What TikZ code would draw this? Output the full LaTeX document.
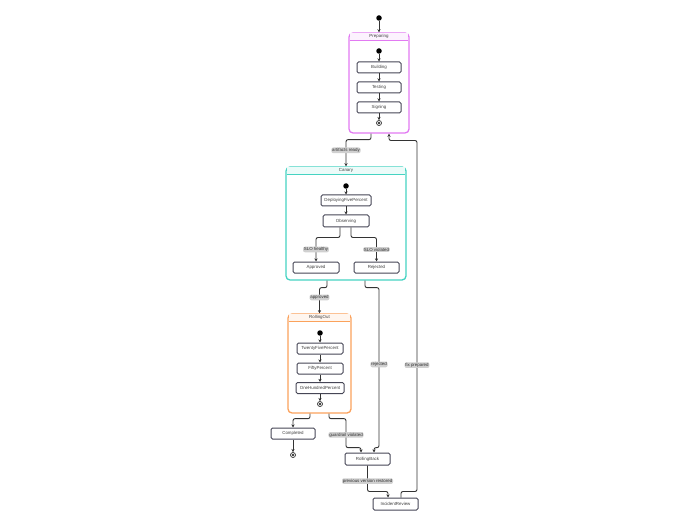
\documentclass[tikz,border=0pt]{standalone}
\usepackage{fontspec}
\setmainfont{Liberation Sans}
\usetikzlibrary{arrows.meta,calc}
\definecolor{prepcol}{HTML}{E27AF2}
\definecolor{canarycol}{HTML}{45D3C2}
\definecolor{rollcol}{HTML}{FBA25C}
\definecolor{boxcol}{HTML}{464656}
\definecolor{linecol}{HTML}{333333}
\definecolor{lblcol}{HTML}{D0D0D0}

\begin{document}
\begin{tikzpicture}[x=1pt,y=-1pt,
  font=\fontsize{4.4}{5}\selectfont,
  state/.style={draw=boxcol,line width=1pt,rounded corners=1.5,fill=white,
    minimum width=44,minimum height=11,inner sep=0,text=black!75},
  start/.style={circle,fill=black,inner sep=0,minimum size=5.5},
  stop/.style={circle,draw=black!80,line width=.7pt,inner sep=0,minimum size=5,
    path picture={\fill[black!80] (path picture bounding box.center) circle (1.4);}},
  cluster/.style={draw=#1,line width=1.3pt,rounded corners=4,fill=white,inner sep=0},
  band/.style={fill=#1!10,anchor=north,minimum height=6.5,inner sep=0,text=black!75},
  flow/.style={draw=linecol,line width=.9pt,rounded corners=2,-{Stealth[length=3.2pt,width=3.2pt]}},
  lbl/.style={fill=lblcol,inner sep=.8,text=black!80}]
\useasboundingbox (0,0) rectangle (700,526);

% Preparing
\node (top) at (379,18) [start] {};
\node (Preparing) at (379,83) [cluster=prepcol,minimum width=60,minimum height=100] {};
\node (PreparingT) at ($(Preparing.north)+(0,.7)$) [band=prepcol,minimum width=58.5] {Preparing};
\draw [prepcol,line width=.7pt] (PreparingT.south west) -- (PreparingT.south east);
\node (prepInit) at (379,51) [start] {};
\node (Building) at (379,67.5) [state] {Building};
\node (Testing) at (379,87.5) [state] {Testing};
\node (Signing) at (379,107.5) [state] {Signing};
\node (prepEnd) at (379,123) [stop] {};
\path [flow] (top) edge (Preparing.north)
  (prepInit) edge (Building) (Building) edge (Testing)
  (Testing) edge (Signing) (Signing) edge (prepEnd);

% Canary
\node (Canary) at (346,223.5) [cluster=canarycol,minimum width=120,minimum height=113] {};
\node (CanaryT) at ($(Canary.north)+(0,.7)$) [band=canarycol,minimum width=118.5] {Canary};
\draw [canarycol,line width=.7pt] (CanaryT.south west) -- (CanaryT.south east);
\node (canInit) at (346,186) [start] {};
\node (Deploying) at (346,200.5) [state,minimum width=50] {DeployingFivePercent};
\node (Observing) at (346,221) [state,minimum width=46,minimum height=12] {Observing};
\node (Approved) at (316,267.5) [state,minimum width=46] {Approved};
\node (Rejected) at (376.5,267.5) [state,minimum width=45] {Rejected};
\path [flow] (canInit) edge (Deploying) (Deploying) edge (Observing);
\draw [flow] ([xshift=-6]Observing.south) -- ++(0,10) -| node [lbl,pos=.75] {SLO healthy} (Approved.north);
\draw [flow] ([xshift=5]Observing.south) -- ++(0,10) -| node [lbl,pos=.75] {SLO violated} (Rejected.north);

% RollingOut
\node (RollingOut) at (319.5,363.5) [cluster=rollcol,minimum width=63,minimum height=99] {};
\node (RollingOutT) at ($(RollingOut.north)+(0,.7)$) [band=rollcol,minimum width=61.5] {RollingOut};
\draw [rollcol,line width=.7pt] (RollingOutT.south west) -- (RollingOutT.south east);
\node (roInit) at (320,333) [start] {};
\node (TwentyFive) at (320,348.5) [state,minimum width=46] {TwentyFivePercent};
\node (Fifty) at (320,368.5) [state,minimum width=46] {FiftyPercent};
\node (Hundred) at (320,388) [state,minimum width=48] {OneHundredPercent};
\node (roEnd) at (320,404) [stop] {};
\path [flow] (roInit) edge (TwentyFive) (TwentyFive) edge (Fifty)
  (Fifty) edge (Hundred) (Hundred) edge (roEnd);

% outside states
\node (Completed) at (293,433.5) [state] {Completed};
\node (compEnd) at (293,455) [stop] {};
\node (RollingBack) at (367.5,459) [state,minimum width=45,minimum height=12] {RollingBack};
\node (IncidentReview) at (395.5,504) [state,minimum width=45,minimum height=12] {IncidentReview};

% transitions
\draw [flow] ([xshift=-8]Preparing.south) -- ++(0,6) -| node [lbl,pos=.7] {artifacts ready} (Canary.north);
\draw [flow] ([xshift=-19]Canary.south) -- ++(0,7) -| node [lbl,pos=.69] {approved} (RollingOut.north);
\draw [flow] ([xshift=19]Canary.south) -- ++(0,7) -| node [lbl,pos=.74] {rejected} ++(14,160) -| ([xshift=6.5]RollingBack.north);
\draw [flow] ([xshift=-9.5]RollingOut.south) -- ++(0,5) -| (Completed.north);
\draw [flow] (Completed) -- (compEnd);
\draw [flow] ([xshift=9.5]RollingOut.south) -- ++(0,5) -| node [lbl,pos=.78] {guardrail violated} ++(17,29) -| ([xshift=-6.5]RollingBack.north);
\draw [flow] (RollingBack.south) -- node [lbl,pos=.6] {previous version restored} ++(0,26) -| ([xshift=-7.5]IncidentReview.north);
\draw [flow] ([xshift=5.5]IncidentReview.north) -- ++(0,-6) -| node [lbl,pos=.68] {fix prepared} ++(16,-351) -| ([xshift=10]Preparing.south);
\end{tikzpicture}
\end{document}
